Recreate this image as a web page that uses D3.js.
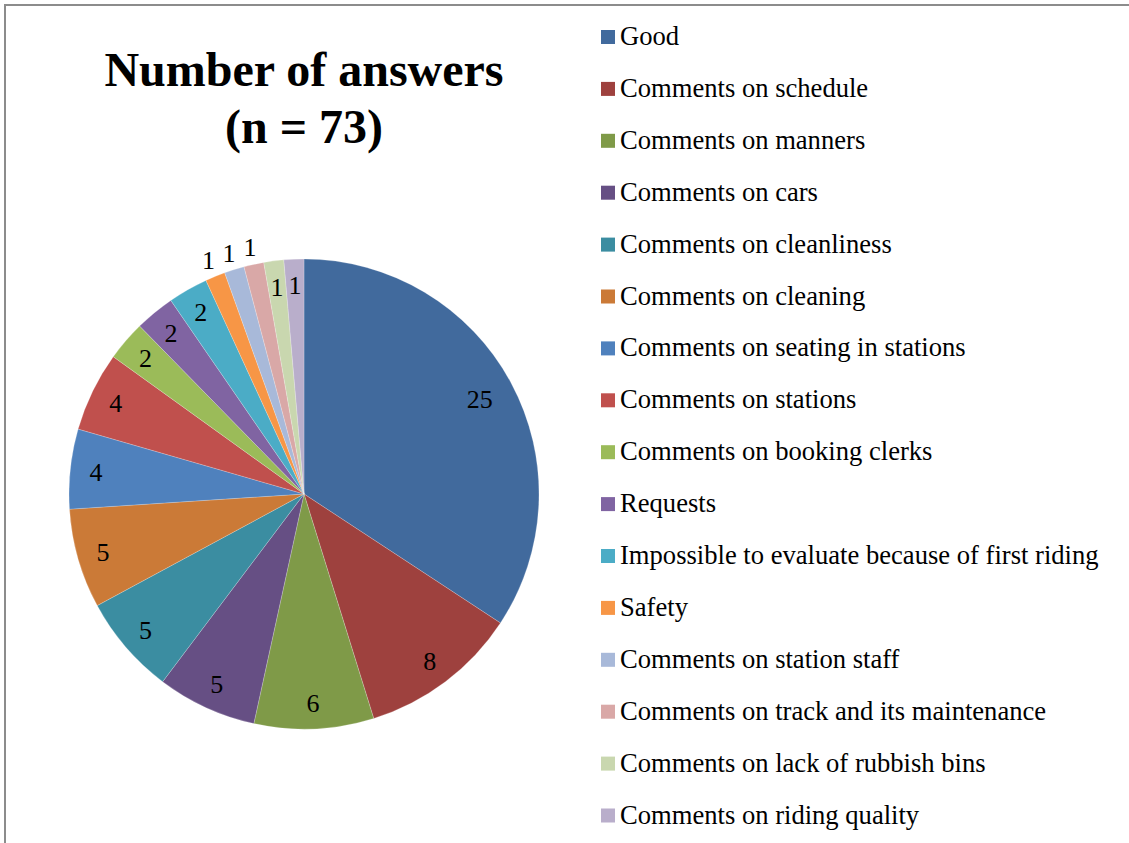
<!DOCTYPE html>
<html>
<head>
<meta charset="utf-8">
<script src="https://cdn.jsdelivr.net/npm/d3@7"></script>
<style>
  html, body { margin: 0; padding: 0; background: #fff; }
  svg { display: block; }
</style>
</head>
<body>
<script>
// Answer categories, counts and slice colours
const categories = [
  "Good",
  "Comments on schedule",
  "Comments on manners",
  "Comments on cars",
  "Comments on cleanliness",
  "Comments on cleaning",
  "Comments on seating in stations",
  "Comments on stations",
  "Comments on booking clerks",
  "Requests",
  "Impossible to evaluate because of first riding",
  "Safety",
  "Comments on station staff",
  "Comments on track and its maintenance",
  "Comments on lack of rubbish bins",
  "Comments on riding quality"
];
const counts = [25, 8, 6, 5, 5, 5, 4, 4, 2, 2, 2, 1, 1, 1, 1, 1];
const colors = [
  "#416A9D", "#9E413E", "#7F9A48", "#664F84", "#3B8DA1", "#CB7A37",
  "#4F81BD", "#C0504D", "#9BBB59", "#8064A2", "#4BACC6", "#F79646",
  "#A8B9D9", "#D9A8A7", "#C9D7AF", "#B9AECB"
];
const titleLines = ["Number of answers", "(n = 73)"];

const W = 1129, H = 843;
const FONT = "'Liberation Serif', 'Times New Roman', serif";
const svg = d3.select("body").append("svg").attr("width", W).attr("height", H);

// outer frame (only top and left edges fall inside the view)
svg.append("rect")
  .attr("x", 5).attr("y", 5)
  .attr("width", W + 20).attr("height", H + 20)
  .attr("fill", "none").attr("stroke", "#8c8c8c").attr("stroke-width", 2);

// title
const title = svg.append("text")
  .attr("text-anchor", "middle")
  .attr("font-family", FONT)
  .attr("font-weight", "bold")
  .attr("font-size", 48)
  .attr("fill", "#000");
title.selectAll("tspan").data(titleLines).join("tspan")
  .attr("x", 304)
  .attr("y", (d, i) => 86 + i * 57)
  .text(d => d);

// pie
const cx = 304, cy = 494, R = 235;
const data = categories.map((c, i) => ({ name: c, value: counts[i], color: colors[i] }));
const pie = d3.pie().sort(null).value(d => d.value).startAngle(0).endAngle(2 * Math.PI);
const arcs = pie(data);
const arc = d3.arc().innerRadius(0).outerRadius(R);

const g = svg.append("g").attr("transform", `translate(${cx},${cy})`);
g.selectAll("path").data(arcs).join("path")
  .attr("d", arc)
  .attr("fill", d => d.data.color)
  .attr("stroke", "#ffffff")
  .attr("stroke-opacity", 0.35)
  .attr("stroke-width", 0.6);

// data labels: inside near the rim, the three crowded small slices go outside
function labelRadius(d, i) {
  if (i === 0) return R * 0.85;
  if (i >= 11 && i <= 13) return R * 1.075;
  return R * 0.89;
}
g.selectAll("text.lbl").data(arcs).join("text")
  .attr("class", "lbl")
  .attr("transform", (d, i) => {
    const a = (d.startAngle + d.endAngle) / 2;
    const r = labelRadius(d, i);
    return `translate(${r * Math.sin(a)},${-r * Math.cos(a)})`;
  })
  .attr("text-anchor", "middle")
  .attr("dy", "0.35em")
  .attr("font-family", FONT)
  .attr("font-size", 26)
  .attr("fill", "#000")
  .text(d => d.data.value);

// legend
const legend = svg.append("g").attr("transform", "translate(601,30)");
const rows = legend.selectAll("g").data(data).join("g")
  .attr("transform", (d, i) => `translate(0,${i * 51.9})`);
rows.append("rect")
  .attr("width", 14).attr("height", 14)
  .attr("fill", d => d.color);
rows.append("text")
  .attr("x", 19).attr("y", 15)
  .attr("font-family", FONT)
  .attr("font-size", 26.6)
  .attr("fill", "#000")
  .text(d => d.name);
</script>
</body>
</html>
